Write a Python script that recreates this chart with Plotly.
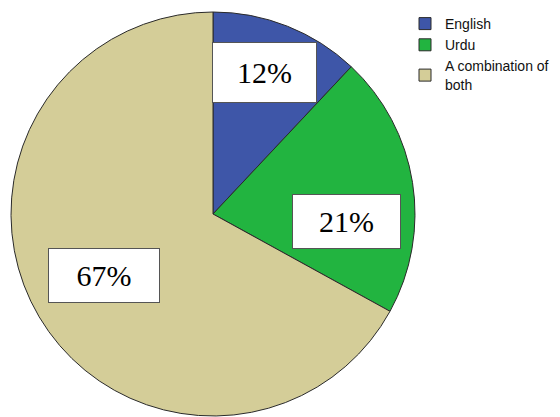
import math
import plotly.graph_objects as go

categories = ["English", "Urdu", "A combination of<br>both"]
values = [12, 21, 67]
labels_txt = ["12%", "21%", "67%"]

colors = ["#3E56A8", "#22B440", "#D4CD98"]
radial_factor = [0.747, 0.664, 0.619]
angle_shift = [-1.5, 12.4, 1.4]
box_w = [101, 105, 108]
box_h = [57, 51, 51]

W, H = 560, 417
OFF = 8  # default page body margin
cx, cy, r = 213 - OFF, 214 - OFF, 202

fig = go.Figure()
fig.add_trace(go.Pie(
    labels=categories, values=values, sort=False, direction="clockwise",
    rotation=0, textinfo="none", hoverinfo="label+percent",
    marker=dict(colors=colors, line=dict(color="#2a2a2a", width=1)),
    domain=dict(x=[(cx - r) / W, (cx + r) / W], y=[(H - cy - r) / H, (H - cy + r) / H]),
))

total = sum(values)
cum = 0
for v, t, f, s, bw, bh in zip(values, labels_txt, radial_factor, angle_shift, box_w, box_h):
    mid = (cum + v / 2) / total * 360 + s
    cum += v
    a = math.radians(mid)
    px = cx + f * r * math.sin(a)
    py = cy - f * r * math.cos(a)
    fig.add_annotation(
        x=px / W, y=1 - py / H, xref="paper", yref="paper",
        xanchor="center", yanchor="middle",
        text=t, showarrow=False,
        font=dict(family="Liberation Serif", size=30, color="black"),
        bgcolor="white", bordercolor="#555555", borderwidth=1,
        width=bw, height=bh,
    )

fig.update_layout(
    width=W, height=H, margin=dict(l=0, r=0, t=0, b=0),
    paper_bgcolor="white", plot_bgcolor="white",
    showlegend=True,
    legend=dict(x=397 / W, y=1.0, xanchor="left", yanchor="top",
                font=dict(family="Liberation Sans", size=14, color="#111"),
                itemwidth=30, tracegroupgap=0, bgcolor="rgba(0,0,0,0)"),
)
fig.write_html("out.html")
